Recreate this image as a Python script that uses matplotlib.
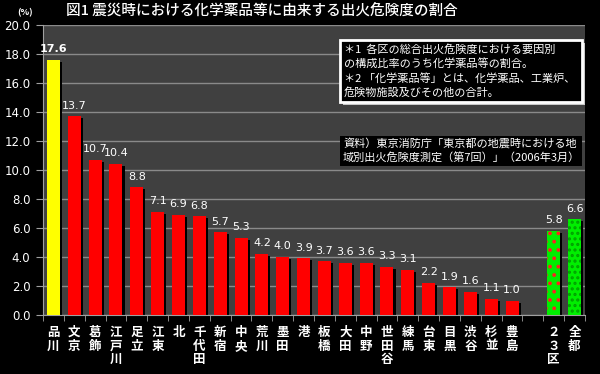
import matplotlib
matplotlib.use("Agg")
import matplotlib.pyplot as plt
from matplotlib.patches import Rectangle

plt.rcParams['font.family'] = ['Noto Sans CJK JP', 'DejaVu Sans']
plt.rcParams['hatch.linewidth'] = 1.5

categories = ['品川', '文京', '葛飾', '江戸川', '足立', '江東', '北', '千代田', '新宿', '中央',
              '荒川', '墨田', '港', '板橋', '大田', '中野', '世田谷', '練馬', '台東', '目黒',
              '渋谷', '杉並', '豊島', '', '２３区', '全都']
values = [17.6, 13.7, 10.7, 10.4, 8.8, 7.1, 6.9, 6.8, 5.7, 5.3,
          4.2, 4.0, 3.9, 3.7, 3.6, 3.6, 3.3, 3.1, 2.2, 1.9,
          1.6, 1.1, 1.0, None, 5.8, 6.6]
yticks = [0, 2, 4, 6, 8, 10, 12, 14, 16, 18, 20]

title = '図1 震災時における化学薬品等に由来する出火危険度の割合'
note1 = ['＊1  各区の総合出火危険度における要因別', 'の構成比率のうち化学薬品等の割合。',
         '＊2 「化学薬品等」とは、化学薬品、工業炉、', '危険物施設及びその他の合計。']
note2 = ['資料）東京消防庁「東京都の地震時における地', '域別出火危険度測定（第7回）」（2006年3月）']

W, H = 600, 374
fig = plt.figure(figsize=(6, 3.74), dpi=100, facecolor='black')
ax = fig.add_axes([43 / W, 1 - 315 / H, (585 - 43) / W, (315 - 25) / H])
ax.set_facecolor('#404040')

n = len(categories)
xs = list(range(n))
bw = 0.62
for i, v in enumerate(values):
    if v is None:
        continue
    # shadow
    ax.bar(i + 0.1, v - 0.14, width=bw, color='black', zorder=2, linewidth=0)
    if i == 0:
        ax.bar(i, v, width=bw, color='#ffff00', zorder=3, linewidth=0)
    elif categories[i] == '２３区':
        ax.bar(i, v, width=bw, color='#00ee00', edgecolor='#ff2020', hatch='..', zorder=3, linewidth=0)
    elif categories[i] == '全都':
        ax.bar(i, v, width=bw, color='#00ee00', edgecolor='#00a000', hatch='...', zorder=3, linewidth=0)
    else:
        ax.bar(i, v, width=bw, color='#ff0000', zorder=3, linewidth=0)
    ax.text(i, v + 0.4, f'{v:.1f}', ha='center', va='bottom', color='white',
            fontsize=8, fontweight='bold' if i == 0 else 'normal', family='DejaVu Sans', zorder=4)

ax.set_xlim(-0.5, n - 0.5)
ax.set_ylim(0, 20)
ax.set_yticks(yticks)
ax.set_yticklabels([f'{t:.1f}' for t in yticks], color='white', fontsize=8.5, family='DejaVu Sans')
ax.yaxis.grid(True, color='#8a8a8a', linewidth=1)
ax.set_axisbelow(True)
ax.tick_params(axis='y', colors='#a0a0a0', length=5, labelcolor='white', pad=4)

ax.set_xticks([i - 0.5 for i in range(n + 1)], minor=True)
ax.tick_params(axis='x', which='minor', colors='#a0a0a0', length=4)
ax.set_xticks(xs)
ax.set_xticklabels(['\n'.join(list(c)) for c in categories], color='white', fontsize=9,
                   fontweight='bold', linespacing=1.05, va='top')
ax.tick_params(axis='x', which='major', length=0, pad=8)

for s in ['top', 'right']:
    ax.spines[s].set_visible(False)
for s in ['left', 'bottom']:
    ax.spines[s].set_color('#a0a0a0')

def px(x, y):
    return x / W, 1 - y / H

# title
fig.text(*px(262, 12), title, color='white', fontsize=10.5, ha='center', va='center', fontweight='medium',
         bbox=dict(facecolor='black', edgecolor='none', pad=4))
fig.text(*px(25, 13), '(%)', color='white', fontsize=6.5, ha='center', va='center', fontweight='bold')

# note box 1
fig.patches.append(Rectangle(px(343, 105), (582 - 340) / W, (105 - 43) / H, transform=fig.transFigure,
                             facecolor='#c8c8c8', edgecolor='none', zorder=5))
fig.patches.append(Rectangle(px(340, 102), (582 - 340) / W, (102 - 40) / H, transform=fig.transFigure,
                             facecolor='black', edgecolor='white', linewidth=2, zorder=6))
for k, line in enumerate(note1):
    fig.text(*px(344, 49 + k * 14.5), line, color='white', fontsize=8, ha='left', va='center', zorder=7)

# note box 2
fig.patches.append(Rectangle(px(340, 166), (582 - 340) / W, (166 - 136) / H, transform=fig.transFigure,
                             facecolor='black', edgecolor='none', zorder=5))
for k, line in enumerate(note2):
    fig.text(*px(343, 143 + k * 14), line, color='white', fontsize=8, ha='left', va='center', zorder=7)

fig.savefig('out.png', dpi=100, facecolor='black')
